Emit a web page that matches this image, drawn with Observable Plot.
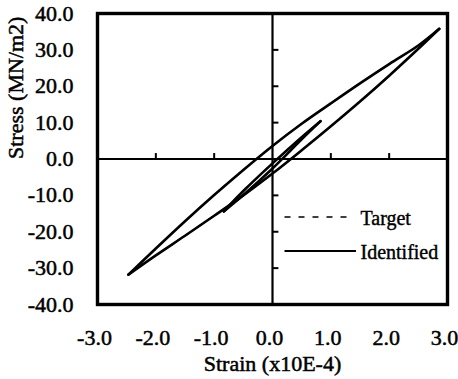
<!DOCTYPE html>
<html>
<head>
<meta charset="utf-8">
<script src="https://cdn.jsdelivr.net/npm/d3@7"></script>
<script src="https://cdn.jsdelivr.net/npm/@observablehq/plot@0.6"></script>
<style>
  html, body { margin: 0; padding: 0; background: white; }
  #wrap { position: relative; width: 458px; height: 379px; font-family: "Liberation Serif", serif; }
  .leg { position: absolute; font-size: 20px; line-height: 24px; color: #000; white-space: nowrap; -webkit-text-stroke: 0.4px #000; }
  .sw { position: absolute; }
  svg text { stroke: #000; stroke-width: 0.5px; }
</style>
</head>
<body>
<div id="wrap"></div>
<script>
// ---- data ----
const xTicks = [-3, -2, -1, 0, 1, 2, 3];
const yTicks = [-40, -30, -20, -10, 0, 10, 20, 30, 40];
const xMinorTicks = [-2, -1, 1, 2];
const yMinorTicks = [-30, -20, -10, 10, 20, 30];

// large loop: loading branch (lower-left tip -> upper-right tip)
const bigUpStrain = [-2.47, -2.0, -1.5, -1.0, -0.5, 0.0, 0.5, 1.0, 1.5, 2.0, 2.5, 2.86];
const bigUpStress = [-31.8, -24.6, -17.1, -9.9, -3.0, 3.6, 9.7, 15.3, 20.8, 26.1, 31.2, 35.8];
// large loop: unloading branch (upper-right tip -> lower-left tip)
const bigDownStrain = [2.86, 2.5, 2.0, 1.5, 1.0, 0.5, 0.0, -0.5, -1.0, -1.5, -2.0, -2.47];
const bigDownStress = [35.8, 30.3, 22.9, 15.8, 9.0, 2.4, -4.0, -10.0, -15.6, -21.1, -26.5, -31.8];
// inner loop
const smallUpStrain = [-0.835, -0.5, 0.0, 0.5, 0.823];
const smallUpStress = [-14.4, -8.8, -1.2, 6.0, 10.4];
const smallDownStrain = [0.823, 0.5, 0.0, -0.5, -0.835];
const smallDownStress = [10.4, 5.4, -2.6, -9.9, -14.4];

const branches = [
  ["big-up", bigUpStrain, bigUpStress],
  ["big-down", bigDownStrain, bigDownStress],
  ["small-up", smallUpStrain, smallUpStress],
  ["small-down", smallDownStrain, smallDownStress]
];
const table = branches.flatMap(([name, xs, ys]) => xs.map((x, i) => ({branch: name, strain: x, stress: ys[i]})));

const font = "Liberation Serif";

const chart = Plot.plot({
  width: 458,
  height: 379,
  marginLeft: 97,
  marginRight: 11,
  marginTop: 13,
  marginBottom: 75,
  x: {domain: [-3, 3]},
  y: {domain: [-40, 40]},
  style: {fontFamily: font, fontSize: "22px", background: "white", color: "black"},
  marks: [
    Plot.axisY(yTicks, {tickSize: 0, tickPadding: 24, tickFormat: d => d.toFixed(1), label: null, fontSize: 22}),
    Plot.axisX(xTicks, {tickSize: 0, tickPadding: 25, tickFormat: d => d.toFixed(1), label: null, fontSize: 22, dx: -3}),
    Plot.ruleY([0], {stroke: "black", strokeWidth: 2.2}),
    Plot.ruleX([0], {stroke: "black", strokeWidth: 2.2}),
    Plot.ruleX(xMinorTicks, {y1: 0, y2: 1.5, stroke: "black", strokeWidth: 2}),
    Plot.ruleY(yMinorTicks, {x1: 0, x2: 0.11, stroke: "black", strokeWidth: 2}),
    // Target (dashed) and Identified (solid) coincide
    Plot.line(table, {x: "strain", y: "stress", z: "branch", curve: "catmull-rom", stroke: "black", strokeWidth: 1.5, strokeDasharray: "6,8"}),
    Plot.line(table, {x: "strain", y: "stress", z: "branch", curve: "catmull-rom", stroke: "black", strokeWidth: 2.6}),
    Plot.frame({stroke: "black", strokeWidth: 3.4}),
    Plot.text(["Strain (x10E-4)"], {frameAnchor: "bottom", lineAnchor: "top", dy: 51, fontSize: 22, fill: "black"}),
    Plot.text(["Stress (MN/m2)"], {frameAnchor: "left", lineAnchor: "top", rotate: -90, dx: -90, fontSize: 22, fill: "black"})
  ]
});

const wrap = document.getElementById("wrap");
wrap.appendChild(chart);

// legend (inside the plot area, lower right)
const legendItems = [
  {label: "Target", dash: "6,8", width: 1.6, lineTop: 217.3, textTop: 206},
  {label: "Identified", dash: null, width: 2.2, lineTop: 250.7, textTop: 240}
];
legendItems.forEach(it => {
  const svg = document.createElementNS("http://www.w3.org/2000/svg", "svg");
  svg.setAttribute("class", "sw");
  svg.setAttribute("width", 74);
  svg.setAttribute("height", 6);
  svg.style.left = "284px";
  svg.style.top = (it.lineTop - 3) + "px";
  const ln = document.createElementNS("http://www.w3.org/2000/svg", "line");
  ln.setAttribute("x1", 0.5); ln.setAttribute("x2", it.dash ? 66 : 72);
  ln.setAttribute("y1", 3); ln.setAttribute("y2", 3);
  ln.setAttribute("stroke", "black");
  ln.setAttribute("stroke-width", it.width);
  if (it.dash) ln.setAttribute("stroke-dasharray", it.dash);
  svg.appendChild(ln);
  wrap.appendChild(svg);
  const t = document.createElement("div");
  t.className = "leg";
  t.style.left = "360.5px";
  t.style.top = it.textTop + "px";
  t.textContent = it.label;
  wrap.appendChild(t);
});
</script>
</body>
</html>
